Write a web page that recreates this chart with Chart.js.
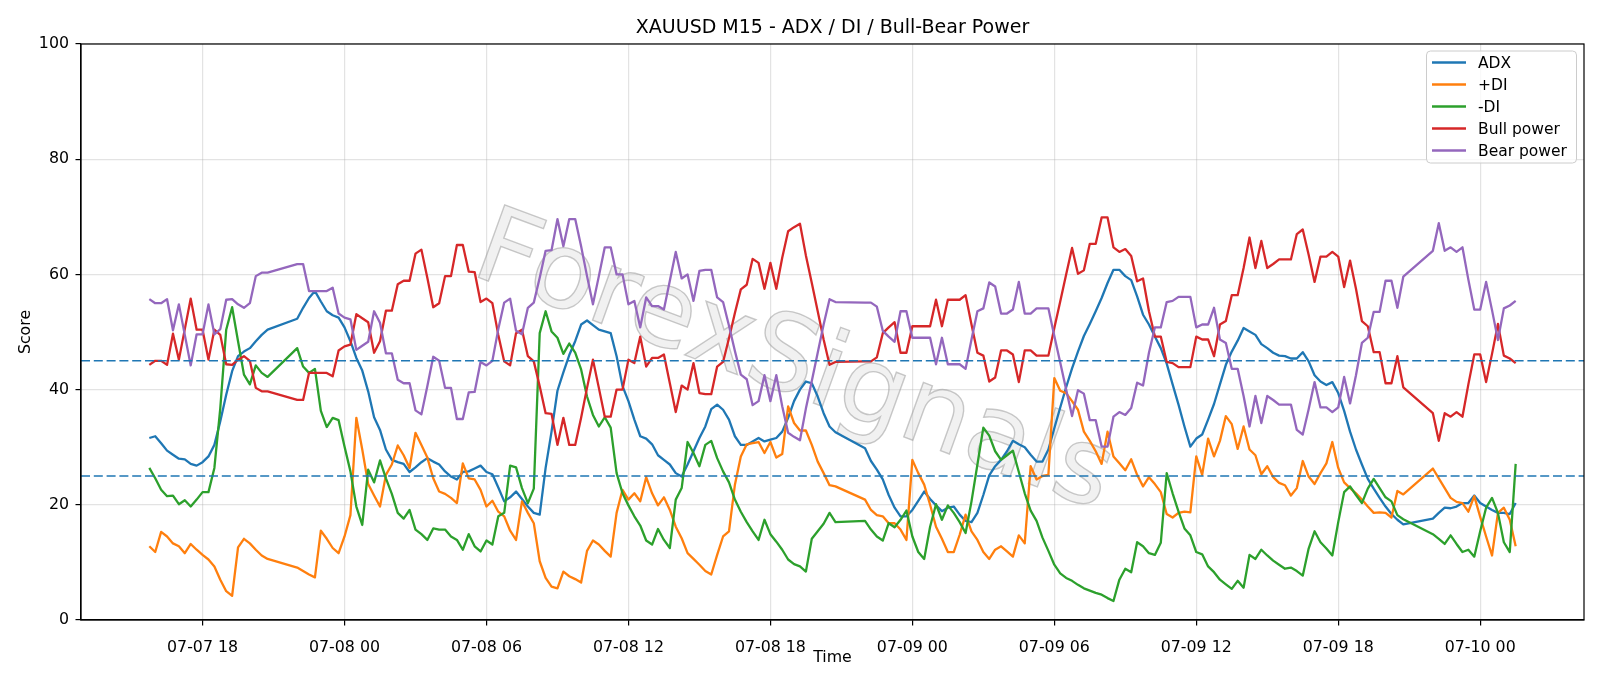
<!DOCTYPE html>
<html>
<head>
<meta charset="utf-8">
<script src="https://cdn.jsdelivr.net/npm/chart.js@4.4.1/dist/chart.umd.min.js"></script>
<style>
  html, body { margin: 0; padding: 0; background: #fff; }
  #wrap { width: 1600px; height: 686px; }
</style>
</head>
<body>
<div id="wrap"><canvas id="myChart" width="1600" height="686"></canvas></div>
<script>
// M15 bars, the 21:00-21:45 daily break is missing from the feed
const times = [
  '07-07 15:45','07-07 16:00','07-07 16:15','07-07 16:30','07-07 16:45','07-07 17:00','07-07 17:15','07-07 17:30',
  '07-07 17:45','07-07 18:00','07-07 18:15','07-07 18:30','07-07 18:45','07-07 19:00','07-07 19:15','07-07 19:30',
  '07-07 19:45','07-07 20:00','07-07 20:15','07-07 20:30','07-07 20:45',
  '07-07 22:00','07-07 22:15','07-07 22:30','07-07 22:45','07-07 23:00','07-07 23:15','07-07 23:30','07-07 23:45',
  '07-08 00:00','07-08 00:15','07-08 00:30','07-08 00:45','07-08 01:00','07-08 01:15','07-08 01:30','07-08 01:45',
  '07-08 02:00','07-08 02:15','07-08 02:30','07-08 02:45','07-08 03:00','07-08 03:15','07-08 03:30','07-08 03:45',
  '07-08 04:00','07-08 04:15','07-08 04:30','07-08 04:45','07-08 05:00','07-08 05:15','07-08 05:30','07-08 05:45',
  '07-08 06:00','07-08 06:15','07-08 06:30','07-08 06:45','07-08 07:00','07-08 07:15','07-08 07:30','07-08 07:45',
  '07-08 08:00','07-08 08:15','07-08 08:30','07-08 08:45','07-08 09:00','07-08 09:15','07-08 09:30','07-08 09:45',
  '07-08 10:00','07-08 10:15','07-08 10:30','07-08 10:45','07-08 11:00','07-08 11:15','07-08 11:30','07-08 11:45',
  '07-08 12:00','07-08 12:15','07-08 12:30','07-08 12:45','07-08 13:00','07-08 13:15','07-08 13:30','07-08 13:45',
  '07-08 14:00','07-08 14:15','07-08 14:30','07-08 14:45','07-08 15:00','07-08 15:15','07-08 15:30','07-08 15:45',
  '07-08 16:00','07-08 16:15','07-08 16:30','07-08 16:45','07-08 17:00','07-08 17:15','07-08 17:30','07-08 17:45',
  '07-08 18:00','07-08 18:15','07-08 18:30','07-08 18:45','07-08 19:00','07-08 19:15','07-08 19:30','07-08 19:45',
  '07-08 20:00','07-08 20:15','07-08 20:30','07-08 20:45',
  '07-08 22:00','07-08 22:15','07-08 22:30','07-08 22:45','07-08 23:00','07-08 23:15','07-08 23:30','07-08 23:45',
  '07-09 00:00','07-09 00:15','07-09 00:30','07-09 00:45','07-09 01:00','07-09 01:15','07-09 01:30','07-09 01:45',
  '07-09 02:00','07-09 02:15','07-09 02:30','07-09 02:45','07-09 03:00','07-09 03:15','07-09 03:30','07-09 03:45',
  '07-09 04:00','07-09 04:15','07-09 04:30','07-09 04:45','07-09 05:00','07-09 05:15','07-09 05:30','07-09 05:45',
  '07-09 06:00','07-09 06:15','07-09 06:30','07-09 06:45','07-09 07:00','07-09 07:15','07-09 07:30','07-09 07:45',
  '07-09 08:00','07-09 08:15','07-09 08:30','07-09 08:45','07-09 09:00','07-09 09:15','07-09 09:30','07-09 09:45',
  '07-09 10:00','07-09 10:15','07-09 10:30','07-09 10:45','07-09 11:00','07-09 11:15','07-09 11:30','07-09 11:45',
  '07-09 12:00','07-09 12:15','07-09 12:30','07-09 12:45','07-09 13:00','07-09 13:15','07-09 13:30','07-09 13:45',
  '07-09 14:00','07-09 14:15','07-09 14:30','07-09 14:45','07-09 15:00','07-09 15:15','07-09 15:30','07-09 15:45',
  '07-09 16:00','07-09 16:15','07-09 16:30','07-09 16:45','07-09 17:00','07-09 17:15','07-09 17:30','07-09 17:45',
  '07-09 18:00','07-09 18:15','07-09 18:30','07-09 18:45','07-09 19:00','07-09 19:15','07-09 19:30','07-09 19:45',
  '07-09 20:00','07-09 20:15','07-09 20:30','07-09 20:45',
  '07-09 22:00','07-09 22:15','07-09 22:30','07-09 22:45','07-09 23:00','07-09 23:15','07-09 23:30','07-09 23:45',
  '07-10 00:00','07-10 00:15','07-10 00:30','07-10 00:45','07-10 01:00','07-10 01:15','07-10 01:30'
];

const adx = [
  31.6, 31.9, 30.7, 29.4, 28.7, 28.0, 27.9, 27.1, 26.8, 27.4, 28.4, 30.4, 34.5, 39.1, 43.2, 45.8, 46.6, 47.2, 48.4, 49.5, 50.4,
  52.3, 54.2, 55.9, 57.1, 55.3, 53.6, 52.9, 52.5,
  50.8, 48.4, 45.5, 43.3, 39.7, 35.2, 33.0, 29.6,
  27.8, 27.4, 27.1, 25.7, 26.5, 27.4, 28.1, 27.5,
  27.0, 25.8, 24.9, 24.4, 25.7, 25.8, 26.3, 26.8,
  25.7, 25.3, 23.0, 20.6, 21.3, 22.3, 21.0, 19.7,
  18.6, 18.3, 26.4, 32.7, 39.8, 43.0, 46.0, 48.4,
  51.3, 52.0, 51.2, 50.4, 50.1, 49.8, 45.8, 40.6,
  38.0, 34.8, 31.9, 31.5, 30.5, 28.6, 27.8, 27.0,
  25.5, 24.9, 27.0, 29.3, 31.6, 33.6, 36.6, 37.4,
  36.5, 34.8, 31.9, 30.4, 30.4, 31.0, 31.6, 31.0,
  31.3, 31.6, 32.7, 35.1, 38.0, 40.0, 41.4, 41.1,
  38.8, 35.9, 33.6, 32.6,
  29.8, 27.6, 26.1, 24.4, 21.7, 19.5, 18.0, 18.0,
  19.1, 20.7, 22.3, 21.0, 19.9, 18.9, 19.5, 19.7,
  18.3, 17.2, 17.0, 18.6, 21.7, 25.1, 26.7, 27.8,
  29.3, 31.1, 30.5, 30.0, 28.7, 27.5, 27.5, 29.6,
  33.3, 36.9, 40.4, 43.7, 46.6, 49.3, 51.4, 53.6,
  55.9, 58.5, 60.8, 60.8, 59.7, 59.0, 56.2, 53.0,
  51.3, 49.2, 47.2, 44.5, 40.9, 37.4, 33.6, 30.1,
  31.5, 32.2, 34.8, 37.5, 40.9, 44.3, 46.6, 48.5,
  50.7, 50.1, 49.5, 47.9, 47.2, 46.4, 45.9, 45.8,
  45.4, 45.4, 46.5, 44.9, 42.5, 41.4, 40.8, 41.3,
  39.4, 36.3, 32.7, 29.6, 27.0, 24.5, 22.8, 21.2,
  19.7, 18.4, 17.4, 16.6,
  17.6, 18.6, 19.5, 19.4, 19.7, 20.3, 20.3, 21.6,
  20.3, 19.7, 19.1, 18.6, 18.6, 18.4, 20.3
];

const plusDi = [
  12.8, 11.8, 15.3, 14.5, 13.3, 12.8, 11.6, 13.2, 12.2, 11.3, 10.5, 9.3, 7.0, 5.0, 4.2, 12.6, 14.1, 13.3, 12.2, 11.2, 10.6,
  9.1, 8.5, 7.9, 7.4, 15.5, 14.1, 12.5, 11.6,
  14.5, 18.2, 35.1, 29.6, 23.6, 21.6, 19.7, 25.2,
  27.0, 30.3, 28.6, 26.4, 32.5, 30.4, 28.2, 24.6,
  22.3, 21.9, 21.2, 20.3, 27.2, 24.6, 24.4, 22.6,
  19.7, 20.7, 18.8, 18.0, 15.5, 13.9, 20.6, 18.6,
  16.8, 10.2, 7.3, 5.8, 5.5, 8.4, 7.6, 7.1,
  6.5, 12.0, 13.8, 13.1, 12.0, 11.0, 18.6, 22.6,
  20.9, 22.0, 20.6, 24.8, 22.0, 19.9, 21.3, 19.1,
  16.2, 14.2, 11.6, 10.6, 9.6, 8.5, 7.9, 11.3,
  14.5, 15.4, 23.5, 28.4, 30.5, 30.7, 30.9, 29.0,
  30.9, 28.2, 28.8, 37.1, 34.2, 32.9, 32.9, 30.4,
  27.5, 25.5, 23.4, 23.2,
  20.9, 19.1, 18.2, 18.0, 16.8, 16.8, 15.7, 13.9,
  27.8, 25.5, 23.5, 20.0, 16.2, 14.1, 11.8, 11.8,
  14.8, 18.3, 15.4, 13.9, 11.8, 10.6, 12.2, 12.8,
  11.9, 11.0, 14.7, 13.3, 26.7, 24.4, 25.0, 25.2,
  42.0, 39.8, 39.4, 38.0, 36.5, 32.7, 31.1, 29.3,
  27.1, 32.7, 28.4, 27.2, 26.0, 27.9, 25.2, 23.2,
  24.8, 23.6, 22.2, 18.4, 17.8, 18.6, 18.8, 18.7,
  28.4, 25.2, 31.5, 28.4, 31.1, 35.4, 34.0, 29.7,
  33.6, 29.6, 28.6, 25.3, 26.7, 24.8, 23.8, 23.4,
  21.6, 22.9, 27.6, 24.9, 23.6, 25.5, 27.2, 30.9,
  26.4, 23.9, 22.9, 22.0, 20.9, 19.7, 18.6, 18.7,
  18.6, 17.8, 22.4, 21.8,
  26.3, 24.6, 22.9, 21.2, 20.5, 20.3, 18.8, 21.5,
  17.9, 14.5, 11.2, 18.6, 19.5, 17.4, 12.8
];

const minusDi = [
  26.4, 24.6, 22.6, 21.5, 21.6, 20.1, 20.8, 19.7, 20.9, 22.2, 22.2, 26.4, 36.8, 50.4, 54.3, 48.4, 42.6, 40.9, 44.2, 42.9, 42.2,
  47.2, 44.0, 42.9, 43.6, 36.3, 33.5, 35.1, 34.7,
  30.1, 25.8, 19.7, 16.5, 26.1, 23.9, 27.7, 24.6,
  21.9, 18.6, 17.6, 19.1, 15.7, 14.9, 13.9, 15.9,
  15.7, 15.7, 14.5, 13.9, 12.2, 14.9, 12.8, 11.9,
  13.8, 13.1, 18.0, 18.6, 26.8, 26.5, 22.9, 20.3,
  22.8, 49.8, 53.6, 50.1, 49.0, 46.2, 48.0, 46.4,
  43.5, 38.8, 35.6, 33.6, 35.2, 33.4, 25.5, 22.0,
  19.9, 18.0, 16.4, 13.8, 13.1, 15.8, 13.9, 12.5,
  20.9, 22.9, 30.9, 29.0, 26.7, 30.4, 31.1, 28.1,
  25.8, 23.9, 20.9, 18.8, 17.0, 15.4, 13.9, 17.4,
  14.9, 13.6, 12.2, 10.5, 9.7, 9.3, 8.4, 14.1,
  15.4, 16.7, 18.6, 17.0,
  17.2, 15.7, 14.5, 13.8, 16.8, 16.1, 17.4, 19.0,
  14.5, 11.8, 10.6, 16.2, 20.1, 17.4, 19.9, 18.6,
  17.0, 15.1, 20.6, 27.0, 33.4, 32.0, 29.3, 27.8,
  28.6, 29.4, 25.7, 22.0, 19.0, 17.2, 14.3, 12.0,
  9.6, 8.1, 7.3, 6.8, 6.1, 5.5, 5.1, 4.7,
  4.4, 3.8, 3.3, 7.0, 8.9, 8.3, 13.5, 12.8,
  11.6, 11.3, 13.4, 25.5, 22.0, 18.8, 15.9, 14.7,
  11.8, 11.4, 9.3, 8.3, 7.0, 6.2, 5.4, 6.8,
  5.6, 11.3, 10.6, 12.2, 11.2, 10.3, 9.6, 8.9,
  9.1, 8.5, 7.7, 12.4, 15.4, 13.5, 12.4, 11.2,
  17.0, 22.2, 23.2, 21.7, 20.3, 22.8, 24.5, 22.9,
  21.3, 20.6, 18.2, 17.5,
  14.9, 14.1, 13.2, 14.7, 13.2, 11.8, 12.2, 11.0,
  15.4, 19.5, 21.2, 18.6, 13.5, 11.8, 27.1
];

const bullPower = [
  44.3, 45.0, 45.0, 44.3, 49.7, 45.2, 50.5, 55.8, 50.4, 50.4, 45.2, 50.4, 49.5, 44.4, 44.3, 45.2, 45.8, 45.0, 40.3, 39.7, 39.7,
  38.2, 38.2, 42.9, 42.9, 42.9, 42.9, 42.3, 46.8,
  47.5, 47.8, 53.1, 52.4, 51.7, 46.4, 48.4, 53.7,
  53.7, 58.3, 58.9, 58.9, 63.6, 64.3, 59.4, 54.3,
  55.0, 59.7, 59.7, 65.1, 65.1, 60.5, 60.4, 55.2,
  55.8, 55.0, 49.5, 44.9, 44.2, 49.8, 50.4, 45.8,
  44.9, 40.6, 35.9, 35.8, 30.4, 35.1, 30.4, 30.4,
  35.1, 40.3, 45.2, 40.3, 35.3, 35.3, 40.0, 40.0,
  45.2, 44.6, 49.2, 44.0, 45.5, 45.5, 46.1, 41.1,
  36.1, 40.7, 40.0, 44.6, 39.4, 39.2, 39.2, 44.0,
  44.8, 48.9, 53.3, 57.4, 58.2, 62.7, 62.0, 57.5,
  62.0, 57.5, 62.9, 67.5, 68.2, 68.8, 63.3, 58.5,
  53.6, 48.7, 44.3, 44.8,
  44.9, 44.9, 45.6, 49.8, 50.8, 51.7, 46.4, 46.4,
  51.0, 51.0, 51.0, 51.0, 55.6, 51.0, 55.6, 55.6,
  55.6, 56.4, 51.3, 46.4, 45.9, 41.4, 42.1, 46.8,
  46.8, 46.1, 41.3, 46.8, 46.8, 45.9, 45.9, 45.9,
  50.7, 55.3, 60.0, 64.6, 60.1, 60.7, 65.3, 65.3,
  69.9, 69.9, 64.7, 63.9, 64.4, 63.2, 58.8, 59.3,
  53.6, 49.2, 49.2, 44.8, 44.6, 43.9, 43.9, 43.9,
  49.2, 48.7, 48.7, 45.8, 51.3, 51.9, 56.4, 56.4,
  61.1, 66.4, 61.1, 65.8, 61.1, 61.8, 62.6, 62.6,
  62.6, 67.0, 67.8, 63.4, 58.7, 63.1, 63.1, 63.9,
  63.1, 57.8, 62.4, 57.5, 51.9, 51.0, 46.5, 46.5,
  41.1, 41.1, 45.8, 40.4,
  35.9, 31.1, 35.9, 35.3, 36.1, 35.3, 40.9, 46.1,
  46.1, 41.3, 46.2, 51.4, 45.9, 45.4, 44.6
];

const bearPower = [
  55.7, 55.0, 55.0, 55.7, 50.3, 54.8, 49.5, 44.2, 49.6, 49.6, 54.8, 49.6, 50.5, 55.6, 55.7, 54.8, 54.2, 55.0, 59.7, 60.3, 60.3,
  61.8, 61.8, 57.1, 57.1, 57.1, 57.1, 57.7, 53.2,
  52.5, 52.2, 46.9, 47.6, 48.3, 53.6, 51.6, 46.3,
  46.3, 41.7, 41.1, 41.1, 36.4, 35.7, 40.6, 45.7,
  45.0, 40.3, 40.3, 34.9, 34.9, 39.5, 39.6, 44.8,
  44.2, 45.0, 50.5, 55.1, 55.8, 50.2, 49.6, 54.2,
  55.1, 59.4, 64.1, 64.2, 69.6, 64.9, 69.6, 69.6,
  64.9, 59.7, 54.8, 59.7, 64.7, 64.7, 60.0, 60.0,
  54.8, 55.4, 50.8, 56.0, 54.5, 54.5, 53.9, 58.9,
  63.9, 59.3, 60.0, 55.4, 60.6, 60.8, 60.8, 56.0,
  55.2, 51.1, 46.7, 42.6, 41.8, 37.3, 38.0, 42.5,
  38.0, 42.5, 37.1, 32.5, 31.8, 31.2, 36.7, 41.5,
  46.4, 51.3, 55.7, 55.2,
  55.1, 55.1, 54.4, 50.2, 49.2, 48.3, 53.6, 53.6,
  49.0, 49.0, 49.0, 49.0, 44.4, 49.0, 44.4, 44.4,
  44.4, 43.6, 48.7, 53.6, 54.1, 58.6, 57.9, 53.2,
  53.2, 53.9, 58.7, 53.2, 53.2, 54.1, 54.1, 54.1,
  49.3, 44.7, 40.0, 35.4, 39.9, 39.3, 34.7, 34.7,
  30.1, 30.1, 35.3, 36.1, 35.6, 36.8, 41.2, 40.7,
  46.4, 50.8, 50.8, 55.2, 55.4, 56.1, 56.1, 56.1,
  50.8, 51.3, 51.3, 54.2, 48.7, 48.1, 43.6, 43.6,
  38.9, 33.6, 38.9, 34.2, 38.9, 38.2, 37.4, 37.4,
  37.4, 33.0, 32.2, 36.6, 41.3, 36.9, 36.9, 36.1,
  36.9, 42.2, 37.6, 42.5, 48.1, 49.0, 53.5, 53.5,
  58.9, 58.9, 54.2, 59.6,
  64.1, 68.9, 64.1, 64.7, 63.9, 64.7, 59.1, 53.9,
  53.9, 58.7, 53.8, 48.6, 54.1, 54.6, 55.4
];

const seriesNames = ['ADX', '+DI', '-DI', 'Bull power', 'Bear power'];
const seriesColors = ['#1f77b4', '#ff7f0e', '#2ca02c', '#d62728', '#9467bd'];
const seriesValues = [adx, plusDi, minusDi, bullPower, bearPower];

// x ticks every 6 hours (hours counted from 07-07 00:00)
const tickHours = [18, 24, 30, 36, 42, 48, 54, 60, 66, 72];
const tickLabels = ['07-07 18', '07-08 00', '07-08 06', '07-08 12', '07-08 18',
                    '07-09 00', '07-09 06', '07-09 12', '07-09 18', '07-10 00'];

// dashed reference levels
const levels = [45, 25];

const FONT = "'DejaVu Sans', 'Liberation Sans', sans-serif";

function toHours(t) {
  const day = parseInt(t.slice(3, 5), 10);
  const h = parseInt(t.slice(6, 8), 10);
  const m = parseInt(t.slice(9, 11), 10);
  return (day - 7) * 24 + h + m / 60;
}

const xs = times.map(toHours);
// matplotlib style 5% margins on the time axis
const span = xs[xs.length - 1] - xs[0];
const xMin = xs[0] - span * 0.05;
const xMax = xs[xs.length - 1] + span * 0.05;

// watermark, title, reference lines, frame and legend
const decorPlugin = {
  id: 'decor',
  beforeDatasetsDraw(chart) {
    const ctx = chart.ctx;
    ctx.save();
    ctx.setTransform(1, 0.375, -0.36, 1, 793, 366);
    ctx.font = '100px ' + FONT;
    const w = ctx.measureText('ForexSignals').width;
    const s = 630 / w;
    ctx.font = (100 * s).toFixed(1) + 'px ' + FONT;
    ctx.textAlign = 'center';
    ctx.textBaseline = 'middle';
    ctx.fillStyle = 'rgba(215,215,215,0.35)';
    ctx.fillText('ForexSignals', 0, 0);
    ctx.lineWidth = 1.3;
    ctx.strokeStyle = 'rgba(150,150,150,0.5)';
    ctx.strokeText('ForexSignals', 0, 0);
    ctx.restore();
  },
  afterDatasetsDraw(chart) {
    const ctx = chart.ctx;
    const area = chart.chartArea;
    const yScale = chart.scales.y;

    ctx.save();
    ctx.beginPath();
    ctx.rect(area.left, area.top, area.right - area.left, area.bottom - area.top);
    ctx.clip();
    ctx.strokeStyle = '#1f77b4';
    ctx.lineWidth = 1.6;
    ctx.setLineDash([9, 3.8]);
    levels.forEach(lv => {
      const y = yScale.getPixelForValue(lv);
      ctx.beginPath();
      ctx.moveTo(area.left, y);
      ctx.lineTo(area.right, y);
      ctx.stroke();
    });
    ctx.restore();

    // axes frame
    ctx.save();
    ctx.strokeStyle = '#000';
    ctx.lineWidth = 1.2;
    ctx.strokeRect(area.left, area.top, area.right - area.left, area.bottom - area.top);
    ctx.restore();

    // title
    ctx.save();
    ctx.fillStyle = '#000';
    ctx.font = '19px ' + FONT;
    ctx.textAlign = 'center';
    ctx.textBaseline = 'middle';
    ctx.fillText('XAUUSD M15 - ADX / DI / Bull-Bear Power', (area.left + area.right) / 2, 28.5);
    ctx.restore();

    // legend, upper right like matplotlib
    const bx = 1426.5, by = 51, bw = 150, bh = 112;
    ctx.save();
    ctx.beginPath();
    ctx.roundRect(bx, by, bw, bh, 4);
    ctx.fillStyle = 'rgba(255,255,255,0.8)';
    ctx.fill();
    ctx.strokeStyle = '#cccccc';
    ctx.lineWidth = 1;
    ctx.stroke();
    ctx.font = '15.5px ' + FONT;
    ctx.textBaseline = 'middle';
    ctx.textAlign = 'left';
    seriesNames.forEach((name, i) => {
      const y = 62.5 + i * 22;
      ctx.strokeStyle = seriesColors[i];
      ctx.lineWidth = 2.3;
      ctx.beginPath();
      ctx.moveTo(1432, y);
      ctx.lineTo(1466, y);
      ctx.stroke();
      ctx.fillStyle = '#000';
      ctx.fillText(name, 1478, y + 1);
    });
    ctx.restore();
  }
};

const ctx = document.getElementById('myChart');

const budgetChart = new Chart(ctx, {
  type: 'line',
  data: {
    datasets: seriesNames.map((name, i) => ({
      label: name,
      data: seriesValues[i].map((v, j) => ({ x: xs[j], y: v })),
      borderColor: seriesColors[i],
      backgroundColor: seriesColors[i],
      borderWidth: 2.3,
      borderJoinStyle: 'round',
      pointRadius: 0,
      pointHoverRadius: 0,
      tension: 0,
      fill: false,
      // matplotlib draws later series on top
      order: seriesNames.length - i
    }))
  },
  options: {
    responsive: false,
    animation: false,
    devicePixelRatio: 1,
    layout: { padding: { left: 0, right: 16, top: 44, bottom: 0 } },
    plugins: {
      legend: { display: false },
      title: { display: false },
      tooltip: { enabled: false }
    },
    scales: {
      x: {
        type: 'linear',
        min: xMin,
        max: xMax,
        afterBuildTicks: scale => {
          scale.ticks = tickHours.map(v => ({ value: v }));
        },
        afterFit: scale => { scale.height = 66; },
        ticks: {
          autoSkip: false,
          maxRotation: 0,
          color: '#000',
          padding: 13,
          font: { family: FONT, size: 15.8 },
          callback: value => tickLabels[tickHours.indexOf(value)]
        },
        grid: {
          color: 'rgba(176,176,176,0.35)',
          lineWidth: 1.2,
          tickColor: '#000',
          tickLength: 5.5
        },
        border: { display: true, color: '#000', width: 1.2 },
        title: {
          display: true,
          text: 'Time',
          color: '#000',
          font: { family: FONT, size: 15.8 },
          padding: { top: 0, bottom: 18.5 }
        }
      },
      y: {
        min: 0,
        max: 100,
        afterFit: scale => { scale.width = 81; },
        ticks: {
          stepSize: 20,
          color: '#000',
          padding: 6.5,
          font: { family: FONT, size: 15.8 }
        },
        grid: {
          color: 'rgba(176,176,176,0.35)',
          lineWidth: 1.2,
          tickColor: '#000',
          tickLength: 5.5
        },
        border: { display: true, color: '#000', width: 1.2 },
        title: {
          display: true,
          text: 'Score',
          color: '#000',
          font: { family: FONT, size: 15.8 },
          padding: { top: 16, bottom: 0 }
        }
      }
    }
  },
  plugins: [decorPlugin]
});
</script>
</body>
</html>
